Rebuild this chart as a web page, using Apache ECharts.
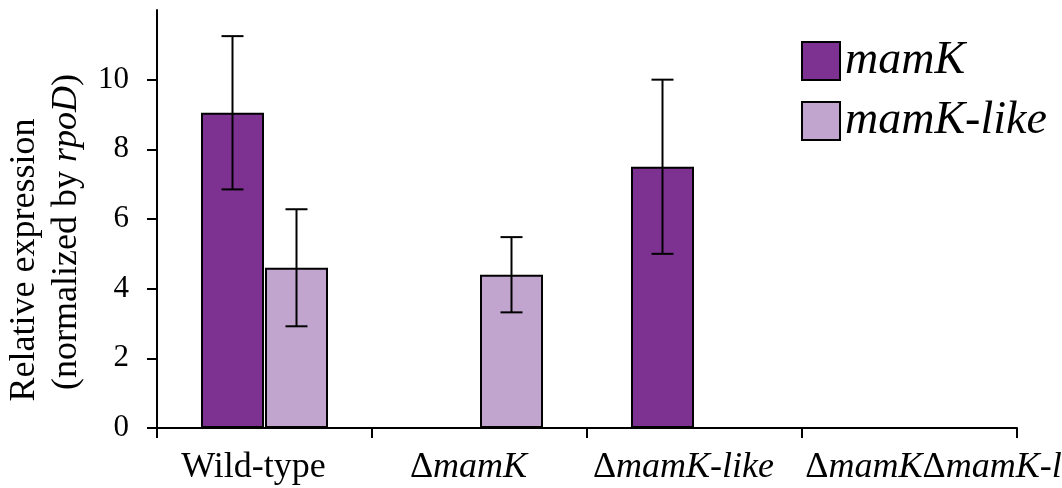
<!DOCTYPE html>
<html>
<head>
<meta charset="utf-8">
<script src="https://cdn.jsdelivr.net/npm/echarts@6/dist/echarts.min.js"></script>
<style>html,body{margin:0;padding:0;background:#fff}#c{width:1062px;height:488px}</style>
</head>
<body>
<div id="c"></div>
<script>
const categories = ['Wild-type', 'ΔmamK', 'ΔmamK-like', 'ΔmamKΔmamK-like'];
const seriesNames = ['mamK', 'mamK-like'];
const mamK = [9.05, 0, 7.5, 0];
const mamKErr = [2.2, 0, 2.5, 0];
const mamKLike = [4.6, 4.4, 0, 0];
const mamKLikeErr = [1.68, 1.08, 0, 0];
const yTicks = [0, 2, 4, 6, 8, 10, 12];

const FONT = '"Liberation Serif", "Times New Roman", serif';
const BAR_W = 63;
const BAR_GAP = 1;
const colors = ['#7d3292', '#c2a5cf'];
const XFS = 36;

function labelFmt(v, idx) {
  const body = v.replace(/mamK(-like)?/g, m => '{i|' + m + '}').replace(/Δ/g, '{n|Δ}');
  const lead = idx === categories.length - 1 ? '{sl| }' : '';
  return lead + body + '{st| }';
}

function errSeries(vals, errs, idx) {
  const offset = (idx === 0 ? -1 : 1) * (BAR_W + BAR_GAP) / 2;
  return {
    type: 'custom',
    z: 5,
    data: vals.map((v, i) => [i, v, errs[i]]),
    renderItem: function (params, api) {
      const i = api.value(0), v = api.value(1), e = api.value(2);
      if (!e) return null;
      const top = api.coord([i, v + e]);
      const bot = api.coord([i, v - e]);
      const x = top[0] + offset;
      const cap = 11;
      const st = { stroke: '#000', lineWidth: 2 };
      return {
        type: 'group',
        children: [
          { type: 'line', shape: { x1: x, y1: top[1], x2: x, y2: bot[1] }, style: st },
          { type: 'line', shape: { x1: x - cap, y1: top[1], x2: x + cap, y2: top[1] }, style: st },
          { type: 'line', shape: { x1: x - cap, y1: bot[1], x2: x + cap, y2: bot[1] }, style: st }
        ]
      };
    }
  };
}

const chart = echarts.init(document.getElementById('c'));
chart.setOption({
  animation: false,
  textStyle: { fontFamily: FONT },
  grid: { left: 157, right: 45, top: 10, bottom: 60, containLabel: false, outerBoundsMode: 'none' },
  legend: {
    orient: 'vertical',
    left: 801,
    top: 38,
    padding: 0,
    icon: 'rect',
    itemWidth: 38,
    itemHeight: 38,
    itemGap: 14,
    data: seriesNames,
    textStyle: { fontFamily: FONT, fontStyle: 'italic', fontSize: 46, color: '#000' }
  },
  xAxis: {
    type: 'category',
    data: categories,
    axisLine: { lineStyle: { color: '#000', width: 2 } },
    axisTick: { show: true, alignWithLabel: false, length: 10, lineStyle: { color: '#000', width: 2 } },
    axisLabel: {
      show: true,
      interval: 0,
      margin: 22,
      color: '#000',
      fontSize: XFS,
      fontFamily: FONT,
      formatter: labelFmt,
      rich: {
        i: { fontStyle: 'italic', fontSize: XFS, fontFamily: FONT, color: '#000' },
        n: { fontSize: XFS, fontFamily: FONT, color: '#000' },
        st: { width: 22, fontSize: XFS },
        sl: { width: 112, fontSize: XFS }
      }
    }
  },
  yAxis: {
    type: 'value',
    min: yTicks[0],
    max: yTicks[yTicks.length - 1],
    interval: yTicks[1] - yTicks[0],
    splitLine: { show: false },
    axisLine: { show: true, lineStyle: { color: '#000', width: 2 } },
    axisTick: { show: true, length: 10, lineStyle: { color: '#000', width: 2 } },
    axisLabel: {
      color: '#000', fontSize: 31, fontFamily: FONT, margin: 28,
      showMaxLabel: false,
      formatter: v => (v === yTicks[yTicks.length - 1] ? '' : String(v))
    },
    name: 'Relative expression{sp| }{sq| }\n(normalized by {i|rpoD}){sq| }',
    nameLocation: 'middle',
    nameGap: 66,
    nameTextStyle: {
      color: '#000', fontSize: 36, fontFamily: FONT, lineHeight: 42,
      rich: {
        i: { fontStyle: 'italic', fontSize: 36, fontFamily: FONT, color: '#000', lineHeight: 42 },
        sp: { width: 56, fontSize: 36, lineHeight: 42 },
        sq: { width: 26, fontSize: 36, lineHeight: 42 }
      }
    }
  },
  series: [
    {
      name: seriesNames[0], type: 'bar', data: mamK, barWidth: BAR_W, barGap: (BAR_GAP / BAR_W * 100) + '%',
      itemStyle: { color: colors[0], borderColor: '#000', borderWidth: 2 }
    },
    {
      name: seriesNames[1], type: 'bar', data: mamKLike, barWidth: BAR_W,
      itemStyle: { color: colors[1], borderColor: '#000', borderWidth: 2 }
    },
    errSeries(mamK, mamKErr, 0),
    errSeries(mamKLike, mamKLikeErr, 1)
  ]
});
</script>
</body>
</html>
